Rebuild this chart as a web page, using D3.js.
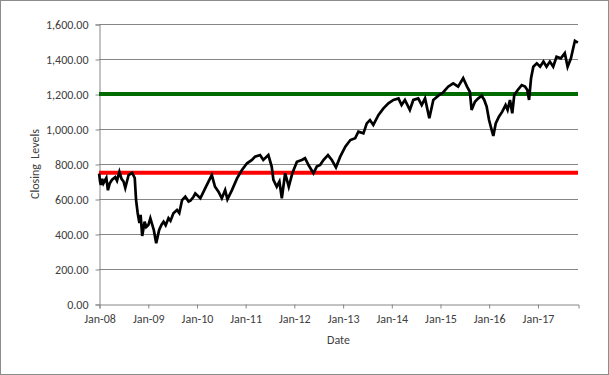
<!DOCTYPE html>
<html>
<head>
<meta charset="utf-8">
<script src="https://cdn.jsdelivr.net/npm/d3@7"></script>
<style>
  body { margin: 0; background: #fff; }
  text { font-family: Carlito, "Liberation Sans", Arial, sans-serif; fill: #404040; }
</style>
</head>
<body>
<div id="chart"></div>
<script>
// closing levels (date, level)
var dates = [
  "2008-01-02","2008-01-09","2008-01-15","2008-01-25","2008-02-03","2008-02-10","2008-02-25","2008-03-08","2008-03-22","2008-04-08",
  "2008-05-02","2008-05-15","2008-06-02","2008-06-18","2008-07-03","2008-07-16","2008-08-10","2008-09-05","2008-09-25",
  "2008-10-05","2008-10-17","2008-10-30","2008-11-08","2008-11-20","2008-12-08","2008-12-20","2009-01-05","2009-01-20",
  "2009-02-15","2009-03-05","2009-03-27","2009-04-15","2009-04-29","2009-05-15","2009-06-05","2009-06-20","2009-07-12","2009-08-08","2009-08-25","2009-09-15",
  "2009-10-09","2009-11-03","2009-11-16","2009-12-10","2009-12-23","2010-01-30","2010-03-07","2010-04-01",
  "2010-04-26","2010-05-20","2010-06-15","2010-07-10","2010-08-04","2010-08-21","2010-09-24","2010-11-01",
  "2010-12-08","2011-01-15","2011-02-21","2011-03-16","2011-04-23","2011-05-17","2011-06-24","2011-07-19",
  "2011-08-01","2011-08-26","2011-09-15","2011-10-03","2011-10-28","2011-11-24","2011-12-21","2012-01-24",
  "2012-03-01","2012-03-25","2012-04-20","2012-05-27","2012-06-21","2012-07-16","2012-08-10","2012-09-13",
  "2012-10-12","2012-11-12","2012-12-14","2013-01-21","2013-02-28","2013-04-05","2013-04-29","2013-06-06",
  "2013-07-01","2013-07-25","2013-08-19","2013-09-27","2013-11-03","2013-12-10","2014-01-17","2014-02-24",
  "2014-03-19","2014-04-13","2014-05-20","2014-06-15","2014-07-22","2014-08-17","2014-09-11","2014-10-13",
  "2014-11-12","2014-12-19","2015-01-26","2015-03-03","2015-04-10","2015-05-17","2015-06-24","2015-07-23",
  "2015-08-13","2015-08-26","2015-09-20","2015-10-15","2015-11-10","2015-11-29","2015-12-17","2016-01-04",
  "2016-01-24","2016-02-05","2016-02-23","2016-03-18","2016-04-12","2016-05-07","2016-05-22","2016-06-09",
  "2016-06-26","2016-07-11","2016-08-06","2016-09-05","2016-09-30","2016-10-17","2016-10-30","2016-11-14",
  "2016-12-01","2016-12-27","2017-01-21","2017-02-15","2017-03-10","2017-04-04","2017-04-29","2017-05-24",
  "2017-06-25","2017-07-25","2017-08-15","2017-09-09","2017-09-26","2017-10-09","2017-10-31"
];
var levels = [
  745,700,680,715,690,700,720,650,690,710,
  725,705,755,715,700,663,737,750,720,
  594,520,463,510,389,470,440,451,490,
  423,347,423,455,470,450,490,475,518,537,520,594,
  613,585,590,613,632,604,661,699,
  737,670,642,604,651,598,651,718,
  766,804,823,842,851,823,851,785,
  709,670,699,604,747,670,747,813,
  823,833,794,747,785,794,823,851,
  823,781,842,899,937,947,985,975,
  1032,1051,1023,1080,1118,1147,1166,1175,
  1137,1166,1109,1166,1175,1137,1175,1061,
  1166,1190,1210,1242,1261,1242,1290,1242,
  1213,1109,1156,1175,1190,1166,1128,1051,
  994,960,1032,1070,1099,1137,1109,1166,
  1090,1194,1223,1251,1242,1223,1166,1290,
  1356,1375,1356,1385,1356,1385,1356,1413,
  1404,1433,1356,1404,1461,1504,1494
];
var yTicks = [0, 200, 400, 600, 800, 1000, 1200, 1400, 1600];
var xTickYears = [2008, 2009, 2010, 2011, 2012, 2013, 2014, 2015, 2016, 2017];
var redLevel = 750;
var greenLevel = 1200;

var W = 609, H = 375;
var mLeft = 99, mRight = 578, mTop = 24, mBottom = 304;

var parse = d3.timeParse("%Y-%m-%d");
var series = dates.map(function(d, i) { return { date: parse(d), value: levels[i] }; });

var svg = d3.select("#chart").append("svg")
  .attr("width", W).attr("height", H);

// outer border
svg.append("rect")
  .attr("x", 0.5).attr("y", 0.5)
  .attr("width", W - 1).attr("height", H - 1)
  .style("fill", "#fff").style("stroke", "#8c8c8c");

var x = d3.scaleTime()
  .domain([new Date(2008, 0, 1), new Date(2017, 10, 1)])
  .range([mLeft, mRight]);
var y = d3.scaleLinear().domain([0, 1600]).range([mBottom, mTop]);

// gridlines
svg.append("g").selectAll("line")
  .data(yTicks.filter(function(d) { return d > 0; }))
  .enter().append("line")
  .attr("x1", mLeft).attr("x2", mRight)
  .attr("y1", function(d) { return Math.round(y(d)) + 0.5; })
  .attr("y2", function(d) { return Math.round(y(d)) + 0.5; })
  .style("stroke", "#868686").style("stroke-width", 1);

// y axis
var yAxis = svg.append("g")
  .attr("transform", "translate(" + (mLeft + 0.5) + ",0.5)")
  .call(d3.axisLeft(y).tickValues(yTicks).tickFormat(d3.format(",.2f")).tickSizeOuter(0).tickSize(4).tickPadding(7));
yAxis.select(".domain").style("stroke", "#868686");
yAxis.selectAll(".tick line").style("stroke", "#868686");
yAxis.selectAll("text").style("font-size", "12px").style("fill", "#404040")
  .style("font-family", "Carlito, 'Liberation Sans', Arial, sans-serif");

// x axis
var xAxis = svg.append("g")
  .attr("transform", "translate(0.5," + (mBottom + 0.5) + ")")
  .call(d3.axisBottom(x)
    .tickValues(xTickYears.map(function(yr) { return new Date(yr, 0, 1); }))
    .tickFormat(d3.timeFormat("%b-%y")).tickSizeOuter(0).tickSize(4).tickPadding(6));
xAxis.select(".domain").style("stroke", "#868686");
xAxis.selectAll(".tick line").style("stroke", "#868686");
xAxis.selectAll("text").style("font-size", "12px").style("fill", "#404040")
  .style("font-family", "Carlito, 'Liberation Sans', Arial, sans-serif");

// threshold lines
svg.append("line")
  .attr("x1", mLeft).attr("x2", mRight)
  .attr("y1", y(redLevel)).attr("y2", y(redLevel))
  .style("stroke", "#ff0000").style("stroke-width", 4);
svg.append("line")
  .attr("x1", mLeft).attr("x2", mRight)
  .attr("y1", y(greenLevel)).attr("y2", y(greenLevel))
  .style("stroke", "#006b00").style("stroke-width", 4);

// closing levels
var line = d3.line()
  .x(function(d) { return x(d.date); })
  .y(function(d) { return y(d.value); });
svg.append("path")
  .datum(series)
  .attr("d", line)
  .style("fill", "none")
  .style("stroke", "#000")
  .style("stroke-width", 2.7)
  .style("stroke-linejoin", "miter");

// axis titles
svg.append("text")
  .attr("x", (mLeft + mRight) / 2).attr("y", 344)
  .attr("text-anchor", "middle")
  .style("font-size", "12px")
  .text("Date");
svg.append("text")
  .attr("transform", "translate(39," + ((mTop + mBottom) / 2) + ") rotate(-90)")
  .attr("text-anchor", "middle")
  .style("font-size", "12px")
  .style("white-space", "pre")
  .text("Closing  Levels");
</script>
</body>
</html>
